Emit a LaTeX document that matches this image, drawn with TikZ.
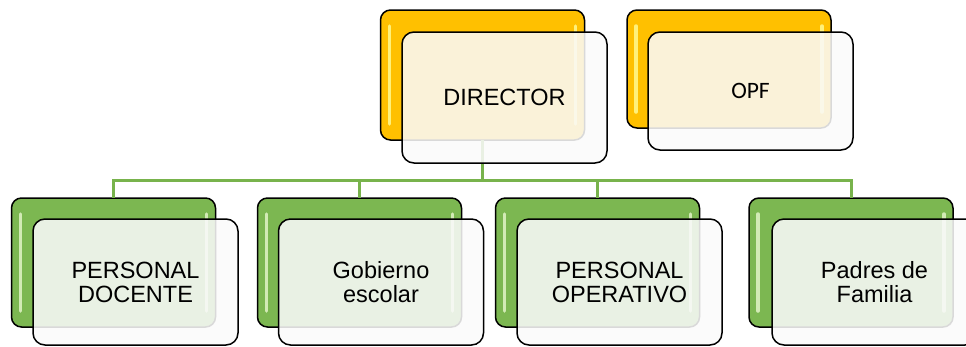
\documentclass[tikz,border=0pt]{standalone}
\usepackage{fontspec}
\setmainfont{Liberation Sans}
\newfontfamily\opffont{Carlito}
\usetikzlibrary{calc}
\definecolor{goldc}{HTML}{FFC000}
\definecolor{goldstripe}{HTML}{FFF17A}
\definecolor{grnc}{HTML}{7CB751}
\definecolor{grnstripe}{HTML}{D2EAB5}
\definecolor{linkc}{HTML}{78B34C}
\definecolor{frontc}{HTML}{FAFAFA}
\begin{document}
\begin{tikzpicture}[x=1pt,y=-1pt,
  backbox/.style={draw=black, line width=1.5pt, rounded corners=10pt, minimum width=204pt, inner sep=0pt, outer sep=0pt},
  goldbox/.style={backbox, fill=goldc},
  grnbox/.style={backbox, fill=grnc, minimum height=129pt},
  frontbox/.style={draw=black, line width=1.5pt, rounded corners=12pt, fill=frontc, fill opacity=0.87, text opacity=1, minimum width=205pt, inner sep=0pt, outer sep=0pt, align=center, font=\fontsize{23.5}{24}\selectfont},
  link/.style={draw=linkc, line width=3pt},
  stripe/.style={line width=3.5pt, line cap=round}
]
\useasboundingbox (0,0) rectangle (966,346);
\clip (0,0) rectangle (966,346);
% back boxes
\node[goldbox, minimum height=130pt] (dirB) at (482.5,75) {};
\node[goldbox, minimum height=118pt] (opfB) at (729,69) {};
\node[grnbox] (pdB) at (113.5,262.5) {};
\node[grnbox] (geB) at (359.5,262.5) {};
\node[grnbox] (poB) at (597.5,262.5) {};
\node[grnbox] (pfB) at (851,262.5) {};
% stripes
\foreach \b/\c in {dirB/goldstripe, opfB/goldstripe, pdB/grnstripe, geB/grnstripe, poB/grnstripe, pfB/grnstripe}{
  \draw[stripe, draw=\c] ($(\b.north west)+(9,16)$) -- ($(\b.south west)+(9,-16)$);
  \draw[stripe, draw=\c] ($(\b.north east)+(-9,16)$) -- ($(\b.south east)+(-9,-16)$);
}
% connectors
\coordinate (bus) at (0,180);
\foreach \t in {pdB, geB, poB, pfB}{
  \draw[link] (dirB.south) -- (dirB.south |- bus) -| (\t.north);
}
% front boxes
\node[frontbox, minimum height=131pt] (dir) at (504.5,97.5) {DIRECTOR};
\node[frontbox, minimum height=118pt] (opf) at (750.5,91) {\opffont OPF};
\node[frontbox, minimum height=126pt] (pd) at (135.5,282) {PERSONAL\\DOCENTE};
\node[frontbox, minimum height=126pt] (ge) at (381,282) {Gobierno\\escolar};
\node[frontbox, minimum height=126pt] (po) at (619.5,282) {PERSONAL\\OPERATIVO};
\node[frontbox, minimum height=126pt] (pf) at (874.5,282) {Padres de\\Familia};
\end{tikzpicture}
\end{document}
